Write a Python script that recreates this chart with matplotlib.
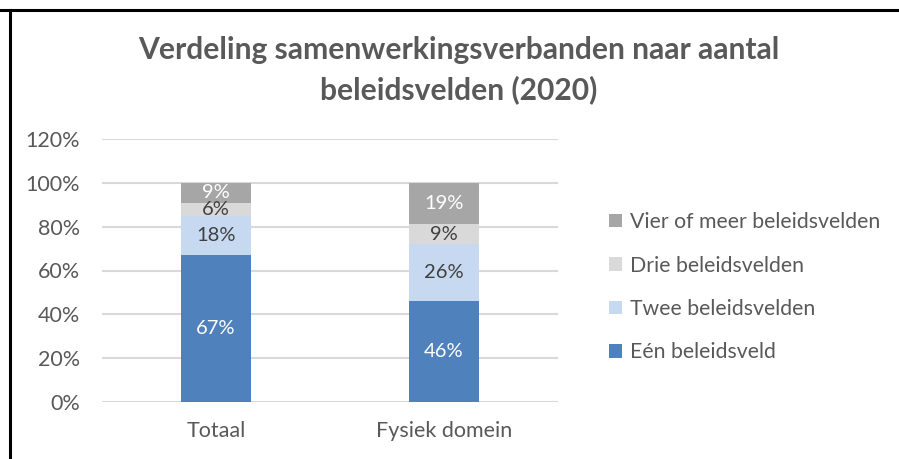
import numpy as np
import matplotlib
matplotlib.use("Agg")
import matplotlib.pyplot as plt
from matplotlib.lines import Line2D

plt.rcParams['font.family'] = ['Lato', 'DejaVu Sans']

categories = ['Totaal', 'Fysiek domein']
series_names = ['Eén beleidsveld', 'Twee beleidsvelden', 'Drie beleidsvelden',
                'Vier of meer beleidsvelden']
values = {
    'Eén beleidsveld': [67, 46],
    'Twee beleidsvelden': [18, 26],
    'Drie beleidsvelden': [6, 9],
    'Vier of meer beleidsvelden': [9, 19],
}
yticks = [0, 20, 40, 60, 80, 100, 120]

colors = ['#4F81BD', '#C6D9F0', '#D9D9D9', '#A6A6A6']
label_colors = ['white', '#404040', '#404040', 'white']
grey = '#595959'

fig = plt.figure(figsize=(8.99, 4.59), dpi=100)
ax = fig.add_axes([102 / 899, 57 / 459, 456 / 899, 263 / 459])

x = np.arange(len(categories))
bottom = np.zeros(len(categories))
handles = []
for name, c, lc in zip(series_names, colors, label_colors):
    v = np.array(values[name])
    bars = ax.bar(x, v, 0.307, bottom=bottom, color=c, label=name, zorder=3)
    ax.bar_label(bars, labels=['%d%%' % k for k in v], label_type='center',
                 color=lc, fontsize=14.5, zorder=4)
    bottom += v
    handles.append(bars)

ax.set_xlim(-0.5, 1.5)
ax.set_ylim(0, 120)
ax.set_yticks(yticks)
ax.set_yticklabels(['%d%%' % t for t in yticks])
ax.set_xticks(x)
ax.set_xticklabels(categories)
ax.tick_params(axis='both', length=0, colors=grey, labelsize=15.5)
ax.tick_params(axis='y', pad=16)
ax.tick_params(axis='x', pad=14)
for s in ax.spines.values():
    s.set_visible(False)
ax.grid(axis='y', color='#D9D9D9', linewidth=1.5, zorder=0)

fig.text(459 / 899, 1 - 50 / 459, 'Verdeling samenwerkingsverbanden naar aantal',
         ha='center', va='center', fontsize=21.6, fontweight='bold', color=grey)
fig.text(459 / 899, 1 - 90 / 459, 'beleidsvelden (2020)',
         ha='center', va='center', fontsize=21.6, fontweight='bold', color=grey)

fig.legend(handles[::-1], series_names[::-1], loc='upper left',
           bbox_to_anchor=(590 / 899, 1 - 193 / 459), frameon=False,
           fontsize=15.3, labelcolor=grey, handlelength=0.6, handleheight=0.6,
           handletextpad=0.4, labelspacing=1.1)

# frame of the screenshot
fig.add_artist(Line2D([0, 1], [1 - 10 / 459, 1 - 10 / 459], color='black',
                      linewidth=2.2, transform=fig.transFigure))
fig.add_artist(Line2D([10 / 899, 10 / 899], [0, 1 - 10 / 459], color='black',
                      linewidth=2.2, transform=fig.transFigure))

fig.savefig('out.png', dpi=100)
